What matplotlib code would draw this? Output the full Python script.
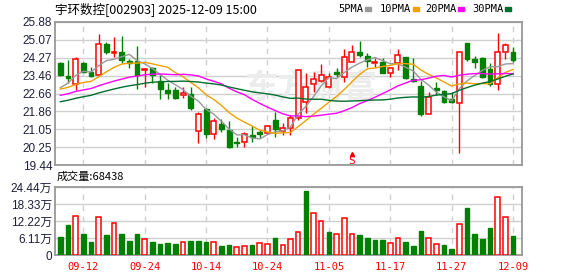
import numpy as np
import pandas as pd
import matplotlib.pyplot as plt
from matplotlib.patches import Rectangle

plt.rcParams['font.family'] = ['Noto Sans CJK SC', 'DejaVu Sans']

# daily k-line 2025-09-09 .. 2025-12-09, 60 trading days
opens = [24.05, 23.45, 23.07, 24.05, 23.64, 23.49, 24.89, 24.50, 24.51, 24.14,
         24.14, 23.70, 23.82, 23.24, 22.82, 22.82, 22.58, 22.64, 20.98, 21.96,
         20.84, 21.29, 21.02, 20.49, 20.49, 20.79, 20.94, 20.87, 21.47, 20.97,
         21.09, 21.54, 22.27, 23.07, 23.22, 22.94, 23.61, 23.42, 24.09, 24.51,
         24.35, 24.05, 24.08, 23.57, 24.02, 24.29, 23.30, 22.99, 21.75, 22.89,
         22.77, 22.39, 22.21, 24.92, 24.21, 24.26, 23.76, 23.07, 24.54, 24.51]
highs = [24.08, 24.17, 24.29, 24.09, 23.87, 25.34, 24.98, 25.22, 25.25, 24.20,
         24.80, 23.82, 23.87, 23.49, 23.12, 22.95, 22.97, 22.97, 21.81, 22.00,
         21.54, 21.50, 21.40, 20.72, 20.94, 21.20, 21.00, 21.23, 21.84, 21.32,
         21.70, 23.72, 23.57, 23.64, 23.99, 23.57, 23.79, 24.65, 24.84, 25.02,
         24.50, 24.24, 24.24, 23.87, 24.65, 24.32, 24.24, 23.24, 22.74, 23.16,
         22.82, 22.73, 24.51, 24.92, 24.35, 24.29, 24.05, 25.40, 24.95, 24.77]
lows = [23.46, 23.15, 22.82, 23.61, 23.42, 23.46, 24.44, 24.29, 24.05, 23.82,
        22.86, 22.97, 23.15, 22.40, 22.40, 22.43, 22.47, 21.93, 20.44, 20.67,
        20.62, 20.94, 20.20, 20.26, 20.26, 20.49, 20.65, 20.84, 20.71, 20.80,
        20.80, 21.47, 21.80, 22.74, 23.19, 22.89, 23.39, 23.19, 24.09, 24.32,
        23.87, 23.87, 23.57, 23.39, 23.72, 23.30, 23.19, 21.65, 21.75, 22.58,
        22.25, 22.25, 19.99, 24.13, 23.79, 23.34, 23.01, 22.82, 24.21, 24.10]
closes = [23.49, 23.36, 24.20, 23.64, 23.46, 24.89, 24.51, 24.53, 24.17, 24.02,
          23.49, 23.76, 23.49, 22.85, 22.70, 22.47, 22.68, 21.99, 21.74, 20.83,
          21.42, 21.06, 20.24, 20.43, 20.84, 20.72, 20.84, 21.20, 21.06, 21.09,
          21.56, 23.72, 22.94, 23.30, 23.49, 23.42, 23.52, 24.29, 24.51, 24.39,
          24.14, 24.08, 23.60, 23.79, 24.39, 23.34, 23.24, 21.74, 22.49, 22.82,
          22.29, 22.28, 24.51, 24.21, 24.09, 23.42, 23.07, 24.54, 24.83, 24.17]
# volume, 万手
volume = [6.47, 10.78, 13.90, 7.55, 4.67, 13.54, 7.19, 11.50, 7.55, 5.03,
          7.55, 5.63, 4.67, 4.07, 4.31, 3.95, 4.67, 5.03, 5.03, 4.67,
          4.67, 3.23, 3.59, 2.76, 3.11, 3.59, 4.31, 3.95, 6.11, 3.59,
          5.70, 8.20, 23.0, 15.09, 12.10, 8.27, 7.55, 13.18, 7.55, 7.19,
          6.11, 5.39, 5.39, 4.19, 6.11, 4.67, 3.23, 8.63, 5.99, 3.83,
          3.59, 2.16, 11.14, 16.89, 7.55, 5.75, 9.70, 20.85, 13.66, 6.8438]
# closes before the window, only needed for the moving averages
pre_closes = [21.4, 21.5, 21.6, 21.5, 21.7, 21.8, 21.9, 21.8, 22.0, 21.9,
              22.0, 22.1, 22.3, 22.2, 22.4, 22.3, 22.5, 22.4, 22.3, 22.5,
              22.6, 22.9, 22.7, 23.0, 22.8, 22.3, 22.5, 22.7, 23.6]

date_labels = ['09-12', '09-24', '10-14', '10-24', '11-05', '11-17', '11-27', '12-09']
price_ticks = [19.44, 20.25, 21.05, 21.86, 22.66, 23.46, 24.27, 25.07, 25.88]
vol_ticks = [0, 6.11, 12.22, 18.33, 24.44]
ma_periods = [5, 10, 20, 30]
ma_colors = ['#999999', '#f0a000', '#ff00ff', '#006f2e']

RED = '#ff0000'
GREEN = '#008000'
GRID = '#d0d0d0'
BORDER = '#999999'

n = len(closes)
x = np.arange(n)
o, h, l, c = map(np.array, (opens, highs, lows, closes))
allc = np.array(pre_closes + closes)
prev = allc[len(pre_closes) - 1:-1]

W, H = 578, 276
fig = plt.figure(figsize=(W / 100, H / 100), dpi=100)


def box(left, top, right, bottom):
    return [left / W, 1 - bottom / H, (right - left) / W, (bottom - top) / H]


ax = fig.add_axes(box(55, 22, 522, 165))
axv = fig.add_axes(box(55, 187, 522, 255))

#%% price panel
w = 0.64
for i in range(n):
    top, bot = max(o[i], c[i]), min(o[i], c[i])
    hgt = max(top - bot, 0.015)
    if c[i] >= o[i]:
        ax.vlines(i, top, h[i], color=RED, lw=1, zorder=3)
        ax.vlines(i, l[i], bot, color=RED, lw=1, zorder=3)
        ax.add_patch(Rectangle((i - w / 2, bot), w, hgt, fc='white', ec=RED, lw=1.1, zorder=3))
    else:
        ax.vlines(i, l[i], h[i], color=GREEN, lw=1, zorder=3)
        ax.add_patch(Rectangle((i - w / 2, bot), w, hgt, fc=GREEN, ec=GREEN, lw=1, zorder=3))

for p, col in zip(ma_periods, ma_colors):
    ma = pd.Series(allc).rolling(p).mean().values[-n:]
    ax.plot(x, ma, color=col, lw=1, zorder=4)

# watermark
ax.text(32.6, 22.85, '东方财富', fontsize=24, color='#ececec', fontweight='bold',
        ha='center', va='center', style='italic', zorder=1)

# S signal
ax.text(38, 19.64, 'S', color=RED, fontsize=8, ha='center', va='center',
        family='DejaVu Sans Mono', zorder=5)
ax.plot(38, 19.92, marker='^', color=RED, ms=3, zorder=5)

ax.set_xlim(-0.69, 60.17)
ax.set_ylim(price_ticks[0], price_ticks[-1])
ax.set_yticks(price_ticks)
ax.set_yticklabels([f'{v:.2f}' for v in price_ticks], family='Liberation Sans',
                   fontsize=8.5, color='#20203a')

tick_pos = [3 + 8 * k for k in range(len(date_labels))]
ax.set_xticks(tick_pos)
ax.set_xticklabels([])

#%% volume panel
vol_up = c >= prev
for i in range(n):
    if vol_up[i]:
        axv.bar(i, volume[i], width=0.6, facecolor='white', edgecolor=RED, lw=1.1, zorder=3)
    else:
        axv.bar(i, volume[i], width=0.6, facecolor=GREEN, edgecolor=GREEN, lw=1, zorder=3)

axv.set_xlim(-0.69, 60.17)
axv.set_ylim(0, vol_ticks[-1])
axv.set_yticks(vol_ticks)
axv.set_yticklabels(['0'] + [f'{v:.2f}万' for v in vol_ticks[1:]],
                    family=['Liberation Sans', 'Noto Sans CJK SC'], fontsize=8.5, color='#20203a')
axv.set_xticks(tick_pos)
axv.set_xticklabels(date_labels, family='DejaVu Sans Mono', fontsize=7.5, color=RED)

for a in (ax, axv):
    a.tick_params(length=0, pad=2)
    a.tick_params(axis='x', pad=5)
    a.yaxis.grid(True, color=GRID, lw=1, ls='-')
    a.xaxis.grid(True, color=GRID, lw=1, ls=(0, (4, 4)))
    a.set_axisbelow(True)
    for s in a.spines.values():
        s.set_color(BORDER)
        s.set_linewidth(1.3)

#%% header texts
fig.text(55 / W, 1 - 9 / H, '宇环数控[002903] 2025-12-09 15:00', fontsize=9, va='center')
fig.text(57 / W, 1 - 177 / H, f'成交量:{round(volume[-1] * 10000)}', fontsize=8, va='center')

leg_x = [338, 380, 425, 472]
for k, (p, col) in enumerate(zip(ma_periods, ma_colors)):
    t = fig.text(leg_x[k] / W, 1 - 9 / H, f'{p}PMA', fontsize=7.5, va='center',
                 family='DejaVu Sans Mono')
    sq_x = leg_x[k] + (27 if p < 10 else 33)
    fig.add_artist(Rectangle((sq_x / W, 1 - 11 / H), 6 / W, 4 / H, color=col,
                             transform=fig.transFigure))

fig.savefig('out.png', dpi=100)
